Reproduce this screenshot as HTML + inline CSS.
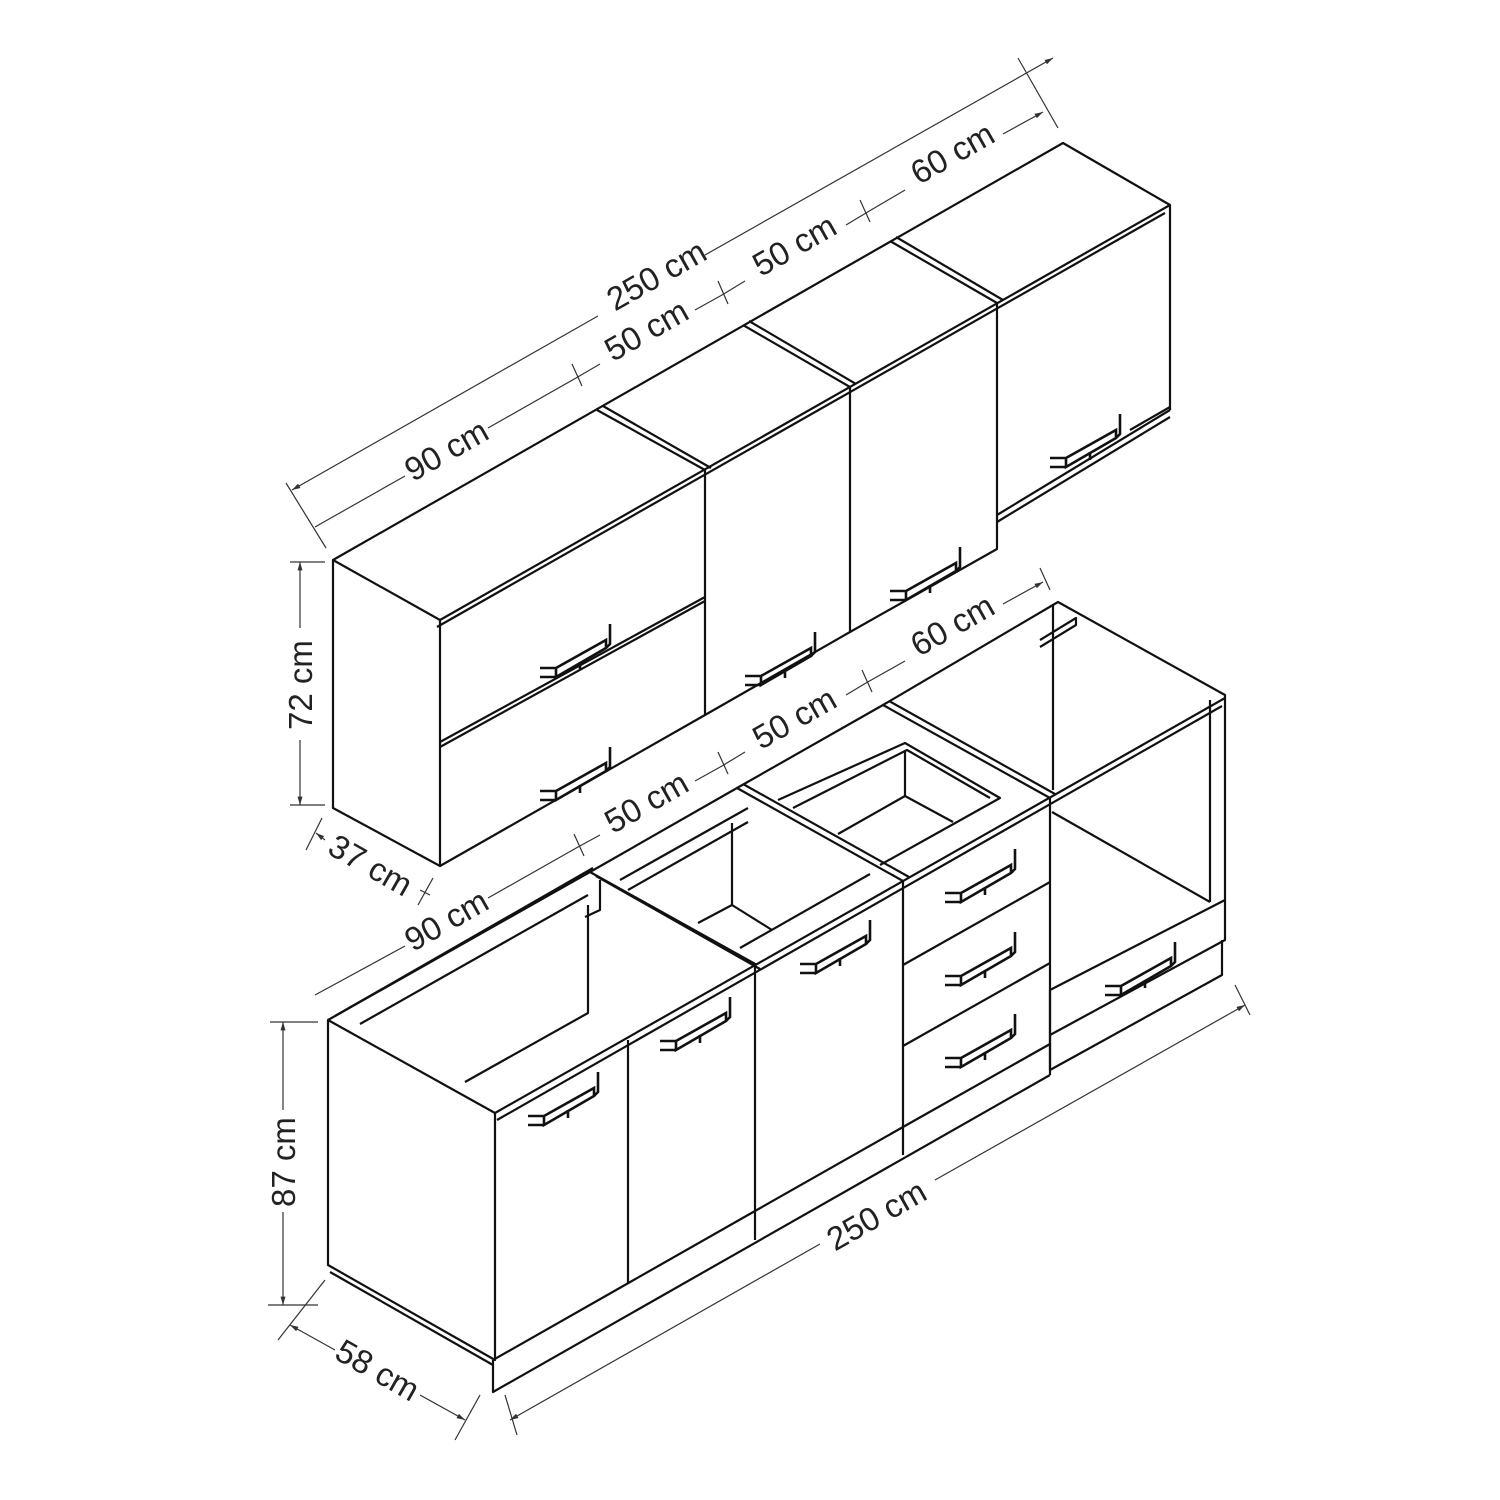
<!DOCTYPE html>
<html><head><meta charset="utf-8"><style>
html,body{margin:0;padding:0;background:#fff;}
svg{display:block;}
text{font-family:"Liberation Sans",sans-serif;font-size:33px;fill:#222;}
</style></head><body>
<svg width="1500" height="1500" viewBox="0 0 1500 1500" xmlns="http://www.w3.org/2000/svg">
<defs>
<g id="h" fill="none" stroke="#111" stroke-width="2.6">
<path d="M0,-4 H16 M0,5 H16 M16,-4 L16,5 L66,-24 L66,-32 L16,-4 M66,-24 L70,-28 L70,-48 M40,-10 L40,-2"/>
</g>
<marker id="ar" viewBox="0 0 10 10" refX="10" refY="5" markerWidth="7" markerHeight="7" orient="auto-start-reverse"><path d="M0,2 L10,5 L0,8z" fill="#333"/></marker>
</defs>
<g fill="none" stroke="#111" stroke-width="2.2" stroke-linejoin="round">
<!-- UPPER UNIT -->
<path d="M333,560 L440,620 L440,866 L333,808 Z"/>
<path d="M333,560 L1063,143 L1170,205"/>
<path d="M440,620 L1170,205 L1170,410"/>
<path d="M437,627 L1165,213"/>
<path d="M597,410 L705,470 M603,406 L711,468"/>
<path d="M743,325 L850,387 M749,321 L856,384"/>
<path d="M890,241 L997,303 M896,237 L1003,300"/>
<path d="M440,866 L705,715 L705,470"/>
<path d="M440,742 L705,597 M440,747 L705,601"/>
<path d="M705,715 L850,632 L850,387"/>
<path d="M850,632 L997,549 L997,303"/>
<path d="M997,515 L1170,410 M997,522 L1170,417 M1130,430 L1170,407"/>
<!-- LOWER UNIT -->
<path d="M328,1020 L495,1113 L495,1360 L328,1265 Z"/>
<path d="M330,1272 L493,1365"/>
<path d="M328,1020 L590,872 L757,965 M590,872 L737,788 L903,881 M737,788 L883,705 L1050,798 M883,705 L1058,602 L1225,695 L1225,900"/>
<path d="M335,1016 L593,868 M596,876 L760,969 M743,784 L909,877 M889,701 L1055,794"/>
<path d="M495,1113 L1225,698 M497,1120 L1222,706"/>
<!-- cab1 interior -->
<path d="M465,1082 L588,1013 L588,905 M360,1024 L588,895"/>
<path d="M585,917 L600,910 L600,880"/>
<!-- cab2 interior -->
<path d="M620,880 L748,808 M628,890 L748,822 M732,823 L732,905 L698,923 M732,905 L772,930 M740,948 L870,874"/>
<!-- drawer unit top box -->
<path d="M778,800 L905,743 L1000,798 L880,865 M793,808 L907,750 L990,798 M905,750 L905,796 L953,822 M905,796 L838,834"/>
<!-- oven interior -->
<path d="M1053,605 L1053,790 M1040,640 L1076,618 L1076,625 L1040,647"/>
<path d="M1052,812 L1210,902 M1210,700 L1210,902"/>
<!-- fronts lower -->
<path d="M493,1360 L755,1211 L755,965"/>
<path d="M628,1283 L628,1040"/>
<path d="M755,1211 L903,1127 L903,881"/>
<path d="M903,1127 L1050,1044 L1050,798"/>
<path d="M903,965 L1050,882 M903,1046 L1050,963"/>
<path d="M1050,990 L1225,900 L1225,940 L1050,1035 L1050,990"/>
<path d="M1050,1035 L1050,1070 L1222,975 L1222,940"/>
<path d="M493,1360 L493,1392 L1050,1075 M903,1127 L903,1155 M755,1211 L755,1240 M1050,1044 L1050,1075"/>
</g>
<use href="#h" x="540" y="672"/>
<use href="#h" x="540" y="795"/>
<use href="#h" x="745" y="680"/>
<use href="#h" x="890" y="595"/>
<use href="#h" x="1050" y="462"/>
<use href="#h" x="528" y="1120"/>
<use href="#h" x="660" y="1045"/>
<use href="#h" x="800" y="968"/>
<use href="#h" x="945" y="897"/>
<use href="#h" x="945" y="980"/>
<use href="#h" x="945" y="1062"/>
<use href="#h" x="1105" y="990"/>
<g stroke="#333" stroke-width="1.2" fill="none">
<path d="M292,490 L598,316 M705,255 L1053,58" marker-start="url(#ar)" marker-end="url(#ar)"/>
<path d="M286,483 L326,548 M1018,58 L1058,128"/>
<path d="M315,527 L405,476 M488,428 L576,378 M576,378 L600,364 M695,310 L722,295 M722,295 L745,281 M846,225 L866,213 M866,213 L905,190 M1003,134 L1043,112" marker-end="url(#ar)"/>
<path d="M572,364 L582,386 M718,281 L728,304 M860,200 L870,222"/>
<path d="M315,995 L405,946 M488,898 L578,847 M578,847 L600,835 M695,781 L722,766 M722,766 L745,752 M846,695 L866,683 M866,683 L905,661 M1003,604 L1043,582" marker-end="url(#ar)"/>
<path d="M574,834 L584,856 M718,752 L728,774 M862,670 L872,692 M1040,568 L1050,590"/>
<path d="M510,1420 L820,1244 M935,1180 L1245,1005" marker-start="url(#ar)" marker-end="url(#ar)"/>
<path d="M505,1395 L517,1435 M1235,985 L1250,1015"/>
<path d="M300,562 L300,628 M300,740 L300,805" marker-start="url(#ar)" marker-end="url(#ar)"/>
<path d="M290,562 L325,562 M290,805 L325,805"/>
<path d="M283,1022 L283,1110 M283,1212 L283,1305" marker-start="url(#ar)" marker-end="url(#ar)"/>
<path d="M270,1022 L318,1022 M268,1305 L318,1305"/>
<path d="M316,833 L325,840 M420,890 L430,895" marker-start="url(#ar)"/>
<path d="M306,850 L322,818 M418,905 L433,878"/>
<path d="M290,1325 L335,1350 M420,1395 L465,1420" marker-start="url(#ar)" marker-end="url(#ar)"/>
<path d="M278,1340 L325,1280 M455,1440 L480,1395"/>
</g>
<g>
<text transform="translate(662,285) rotate(-29.6)" text-anchor="middle">250 cm</text>
<text transform="translate(452,460) rotate(-29.6)" text-anchor="middle">90 cm</text>
<text transform="translate(652,340) rotate(-29.6)" text-anchor="middle">50 cm</text>
<text transform="translate(800,255) rotate(-29.6)" text-anchor="middle">50 cm</text>
<text transform="translate(958,163) rotate(-29.6)" text-anchor="middle">60 cm</text>
<text transform="translate(452,930) rotate(-29.6)" text-anchor="middle">90 cm</text>
<text transform="translate(652,812) rotate(-29.6)" text-anchor="middle">50 cm</text>
<text transform="translate(800,728) rotate(-29.6)" text-anchor="middle">50 cm</text>
<text transform="translate(958,635) rotate(-29.6)" text-anchor="middle">60 cm</text>
<text transform="translate(882,1225) rotate(-29.6)" text-anchor="middle">250 cm</text>
<text transform="translate(312,685) rotate(-90)" text-anchor="middle">72 cm</text>
<text transform="translate(295,1162) rotate(-90)" text-anchor="middle">87 cm</text>
<text transform="translate(365,875) rotate(29.6)" text-anchor="middle">37 cm</text>
<text transform="translate(372,1380) rotate(29.6)" text-anchor="middle">58 cm</text>
</g>
</svg>
</body></html>
